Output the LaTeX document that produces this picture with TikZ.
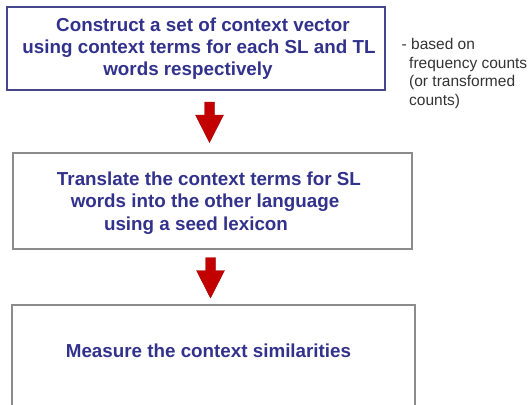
\documentclass[tikz,border=0pt]{standalone}
\usepackage{fontspec}
\setmainfont{Liberation Sans}
\definecolor{txtblue}{RGB}{50,50,140}
\definecolor{navyedge}{RGB}{70,70,140}
\definecolor{grayedge}{RGB}{140,140,140}
\definecolor{arrowred}{RGB}{195,0,0}
\definecolor{arrowdark}{RGB}{160,0,0}
\tikzset{
  box/.style={draw=grayedge, line width=1.3pt, fill=white},
  boxone/.style={draw=navyedge, line width=1.3pt, fill=white},
  steptext/.style={anchor=base, inner sep=0pt, text=txtblue, font=\fontsize{18.8}{21}\selectfont\bfseries},
  sidetext/.style={anchor=base west, inner sep=0pt, text=black!80, font=\fontsize{15.5}{18.5}\selectfont},
  blockarrow/.style={fill=arrowred, draw=arrowdark, line width=0.4pt},
}
\begin{document}
\begin{tikzpicture}[x=1pt,y=-1pt]
\useasboundingbox (0,0) rectangle (529,404);
% boxes
\draw[boxone] (7,7) rectangle (385,90);
\node[inner sep=0pt] (box1) at (196,48.5) {};
\draw[box] (13,153) rectangle (412,249);
\node[inner sep=0pt] (box2) at (212.5,201) {};
\draw[box] (12,305) rectangle (415,420);
\node[inner sep=0pt] (box3) at (213.5,360) {};
% texts box 1
\node[steptext] (t1a) at (203,31.5) {Construct a set of context vector};
\node[steptext] (t1b) at (199,53) {using context terms for each SL and TL};
\node[steptext] (t1c) at (188,75) {words respectively};
% texts box 2
\node[steptext] (t2a) at (209,185.5) {Translate the context terms for SL};
\node[steptext] (t2b) at (205,207.5) {words into the other language};
\node[steptext] (t2c) at (196,230) {using a seed lexicon};
% text box 3
\node[steptext] (t3a) at (208.5,357) {Measure the context similarities};
% side note
\node[sidetext] (s1) at (401.5,49.3) {- based on};
\node[sidetext] (s2) at (409,68) {frequency counts};
\node[sidetext] (s3) at (409,86.7) {(or transformed};
\node[sidetext] (s4) at (409,105.3) {counts)};
% arrows
\coordinate (a1) at (209.5,102);
\coordinate (a2) at (210.5,257.5);
\foreach \c in {a1,a2}{
  \draw[blockarrow, shift={(\c)}] (-4.8,0) -- (4.8,0) -- (4.8,13) -- (14,13) -- (0,40.5) -- (-14,13) -- (-4.8,13) -- cycle;
}
\end{tikzpicture}
\end{document}
